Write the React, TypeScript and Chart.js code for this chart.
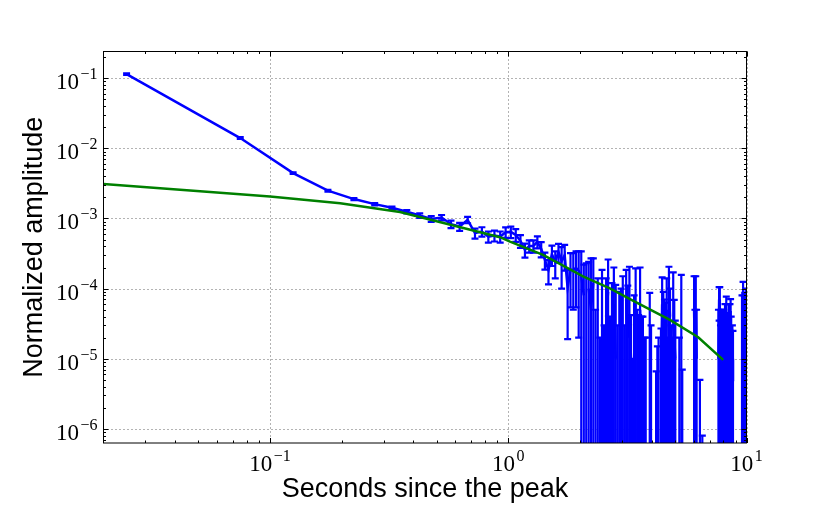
import React, { useEffect, useRef } from "react";
import { Chart, registerables } from "chart.js";

Chart.register(...registerables);

// ---- data ----
const times = [
  0.025, 0.075, 0.125, 0.175, 0.225, 0.275, 0.325, 0.375, 0.425, 0.475,
  0.525, 0.575, 0.625, 0.675, 0.725, 0.775, 0.825, 0.875, 0.925, 0.975,
  1.025, 1.075, 1.125, 1.175, 1.225, 1.275, 1.325, 1.375, 1.425, 1.475,
  1.525, 1.575, 1.625, 1.675, 1.725, 1.775, 1.825, 1.875, 1.925, 1.975,
  2.025, 2.075, 2.125, 2.175, 2.225, 2.275, 2.325, 2.375, 2.425, 2.475,
  2.525, 2.575, 2.625, 2.675, 2.725, 2.775, 2.825, 2.875, 2.925, 2.975,
  3.025, 3.075, 3.125, 3.175, 3.225, 3.275, 3.325, 3.375, 3.425, 3.475,
  3.525, 3.575, 3.625, 3.675, 3.725, 3.775, 3.825, 3.875, 3.925, 3.975,
  4.025, 4.075, 4.125, 4.175, 4.225, 4.275, 4.325, 4.375, 4.425, 4.475,
  4.525, 4.575, 4.625, 4.675, 4.725, 4.775, 4.825, 4.875, 4.925, 4.975,
  5.025, 5.075, 5.125, 5.175, 5.225, 5.275, 5.325, 5.375, 5.425, 5.525,
  5.725, 5.925, 6.025, 6.075, 6.125, 6.175, 6.225, 6.375, 6.475, 6.525,
  7.075, 7.575, 7.625, 7.675, 7.725, 7.775, 7.825, 7.875, 7.925, 7.975,
  8.025, 8.075, 8.125, 8.175, 8.225, 8.275, 8.325, 8.375, 8.425, 8.475,
  8.525, 8.575, 8.625, 8.675, 8.725, 8.775, 8.825, 9.225, 9.575, 9.625,
  9.675, 9.725, 9.775, 9.825, 9.875, 9.925, 9.975,
];

const amplitudes = [
  0.114, 0.014, 0.00443, 0.00249, 0.00189, 0.0016, 0.00142, 0.00125, 0.0011, 0.000987,
  0.00103, 0.000829, 0.000767, 0.000955, 0.000617, 0.00065, 0.000552, 0.00057, 0.000552, 0.000638,
  0.000644, 0.000583, 0.00048, 0.000357, 0.000406, 0.000406, 0.000464, 0.000369, 0.000257, 0.000185,
  0.00031, 0.00024, 0.000335, 0.000245, 0.0003, 0.000102, 0.000187, 0.000185, 0.000197, 0.00018,
  1.5e-4, 0.8e-4, -0.2e-4, 1.0e-4, 0.5e-4, 1.2e-4, -0.5e-4, 0.3e-4, -0.5e-4, 0.6e-4,
  -0.3e-4, 0.4e-4, 0.9e-4, -0.4e-4, 0.2e-4, 0.6e-4, 0.1e-4, -0.3e-4, 0.3e-4, -0.1e-4,
  0.5e-4, -0.2e-4, 0.7e-4, 0.2e-4, 0.4e-4, 0.1e-4, -0.4e-4, 0.3e-4, 0.6e-4, -0.2e-4,
  0.1e-4, 0.5e-4, 0.1e-4, -0.1e-4, -0.2e-4, -0.3e-4, -0.8e-4, -0.6e-4, 0.2e-4, -0.3e-4,
  -1.0e-4, -0.7e-4, -0.9e-4, -0.2e-4, 0.05e-4, -0.1e-4, -0.5e-4, 0.05e-4, 0.6e-4, 0.3e-4,
  0.2e-4, 0.1e-4, 0.5e-4, -0.3e-4, 0.9e-4, 0.4e-4, -0.2e-4, -0.2e-4, 0.3e-4, 0.2e-4,
  0.1e-4, -0.8e-4, -0.6e-4, -0.9e-4, -0.2e-4, -0.5e-4, 0.5e-4, -0.3e-4, -0.7e-4, -0.9e-4,
  -1.1e-4, -0.6e-4, 0.5e-4, 0.1e-4, 0.4e-4, 0.1e-4, -0.6e-4, -0.2e-4, -0.9e-4, -0.1e-4,
  -0.8e-4, -0.7e-4, 0.1e-4, 0.7e-4, 0.3e-4, -0.2e-4, 0.2e-4, -0.1e-4, 0.2e-4, -0.6e-4,
  0.1e-4, -0.5e-4, 0.3e-4, -0.4e-4, 0.2e-4, -0.7e-4, 0.1e-4, -0.3e-4, 0.2e-4, -0.6e-4,
  0.1e-4, 0.48e-4, -0.1e-4, -0.8e-4, 0.05e-4, 0.1e-4, -0.7e-4, -0.9e-4, 0.2e-4, -0.5e-4,
  0.5e-4, -0.4e-4, 0.3e-4, 0.1e-4, -0.6e-4, 0.4e-4, -0.3e-4,
];

const errors = [
  0.003, 0.0004, 0.00012, 0.00007, 0.00006, 0.00006, 0.00006, 0.00007, 0.00008, 0.00009,
  0.00009, 0.0001, 0.0001, 0.0001, 0.0001, 0.0001, 0.0001, 0.0001, 0.0001, 0.00011,
  0.00012, 0.00012, 0.0001, 0.00008, 0.00008, 0.00008, 0.00009, 0.00009, 0.00007, 0.00007,
  0.0001, 0.0001, 0.0001, 0.000145, 0.00012, 0.000083, 0.000133, 0.000135, 0.000143, 0.00016,
  1.9e-4, 1.4e-4, 2.5e-4, 1.4e-4, 2.2e-4, 1.5e-4, 1.0e-4, 1.1e-4, 0.7e-4, 1.25e-4,
  0.6e-4, 1.0e-4, 1.7e-4, 0.8e-4, 1.0e-4, 1.4e-4, 1.03e-4, 0.6e-4, 0.6e-4, 1.1e-4,
  1.0e-4, 0.5e-4, 1.15e-4, 0.9e-4, 1.65e-4, 0.32e-4, 0.5e-4, 0.5e-4, 1.35e-4, 0.7e-4,
  0.32e-4, 1.5e-4, 0.3e-4, 0.5e-4, 0.4e-4, 0.5e-4, 0.5e-4, 0.4e-4, 0.67e-4, 0.6e-4,
  0.5e-4, 0.4e-4, 0.5e-4, 0.266e-4, 0.1e-4, 0.3e-4, 0.2e-4, 0.22e-4, 0.85e-4, 0.6e-4,
  0.5e-4, 0.53e-4, 0.9e-4, 0.5e-4, 1.15e-4, 0.6e-4, 0.5e-4, 0.4e-4, 1.4e-4, 0.49e-4,
  0.25e-4, 0.4e-4, 0.3e-4, 0.5e-4, 0.4e-4, 0.3e-4, 1.07e-4, 0.37e-4, 0.3e-4, 0.4e-4,
  0.5e-4, 0.3e-4, 1.0e-4, 0.4e-4, 1.1e-4, 0.4e-4, 0.3e-4, 0.25e-4, 0.4e-4, 0.108e-4,
  0.4e-4, 0.3e-4, 0.4e-4, 0.35e-4, 0.75e-4, 0.5e-4, 0.3e-4, 0.48e-4, 0.3e-4, 0.3e-4,
  0.4e-4, 0.3e-4, 0.3e-4, 0.3e-4, 0.57e-4, 0.3e-4, 0.35e-4, 0.2e-4, 0.4e-4, 0.3e-4,
  0.5e-4, 0.23e-4, 0.5e-4, 0.4e-4, 0.25e-4, 0.15e-4, 0.4e-4, 0.4e-4, 0.6e-4, 0.3e-4,
  0.75e-4, 0.3e-4, 0.5e-4, 0.77e-4, 0.3e-4, 0.6e-4, 0.2e-4,
];

const modelTimes = [0.02, 0.1, 0.197, 0.351, 0.923, 1.017, 1.4, 2.06, 2.67, 3.35, 4.77, 6.27, 7.98];
const modelValues = [3.11e-3, 2.05e-3, 1.65e-3, 1.24e-3, 5.41e-4, 4.69e-4, 3.03e-4, 1.49e-4, 1.01e-4, 6.68e-5, 3.58e-5, 2.03e-5, 9.64e-6];

const xTickValues = [0.1, 1, 10];
const xTickExponents = ["\u22121", "0", "1"];
const yTickValues = [1e-1, 1e-2, 1e-3, 1e-4, 1e-5, 1e-6];
const yTickExponents = ["\u22121", "\u22122", "\u22123", "\u22124", "\u22125", "\u22126"];

const X_MIN = 0.02;
const X_MAX = 10;
const Y_MIN = 6.3e-7;
const Y_MAX = 0.24;

const xTitle = "Seconds since the peak";
const yTitle = "Normalized amplitude";

// ---- rendering ----
const BASE_FONT = "23px 'Liberation Serif', serif";
const EXP_FONT = "16px 'Liberation Serif', serif";
const TITLE_FONT = "27px 'Liberation Sans', Arial, sans-serif";

function minorValues(min: number, max: number): number[] {
  const out: number[] = [];
  const d0 = Math.floor(Math.log10(min));
  const d1 = Math.ceil(Math.log10(max));
  for (let d = d0; d <= d1; d++) {
    for (let m = 2; m <= 9; m++) {
      const v = m * Math.pow(10, d);
      if (v > min && v < max) out.push(v);
    }
  }
  return out;
}

function drawPow(ctx: CanvasRenderingContext2D, x: number, baseY: number, exp: string, align: "center" | "right") {
  ctx.font = BASE_FONT;
  const w10 = ctx.measureText("10").width;
  ctx.font = EXP_FONT;
  const wExp = ctx.measureText(exp).width;
  const gap = 1.5;
  const total = w10 + gap + wExp;
  const start = align === "center" ? x - total / 2 : x - total;
  ctx.textAlign = "left";
  ctx.textBaseline = "alphabetic";
  ctx.font = BASE_FONT;
  ctx.fillText("10", start, baseY);
  ctx.font = EXP_FONT;
  ctx.fillText(exp, start + w10 + gap, baseY - 10);
}

const decorPlugin = {
  id: "decor",
  beforeDatasetsDraw(chart: any) {
    const { ctx, chartArea: a, scales } = chart;
    const xs = scales.x;
    const ys = scales.y;
    ctx.save();
    // dotted grid at decades
    ctx.strokeStyle = "#666";
    ctx.lineWidth = 1;
    ctx.setLineDash([1, 3]);
    for (const v of xTickValues) {
      const px = Math.round(xs.getPixelForValue(v)) + 0.5;
      ctx.beginPath();
      ctx.moveTo(px, a.top);
      ctx.lineTo(px, a.bottom);
      ctx.stroke();
    }
    for (const v of yTickValues) {
      const py = Math.round(ys.getPixelForValue(v)) + 0.5;
      ctx.beginPath();
      ctx.moveTo(a.left, py);
      ctx.lineTo(a.right, py);
      ctx.stroke();
    }
    ctx.setLineDash([]);
    // error bars
    ctx.beginPath();
    ctx.rect(a.left, a.top, a.right - a.left, a.bottom - a.top);
    ctx.clip();
    ctx.strokeStyle = "#0000ff";
    ctx.lineWidth = 2.2;
    const cap = 3.5;
    for (let i = 0; i < times.length; i++) {
      const hi = amplitudes[i] + errors[i];
      if (hi <= 0) continue;
      const lo = amplitudes[i] - errors[i];
      const px = xs.getPixelForValue(times[i]);
      const pyHi = ys.getPixelForValue(hi);
      const pyLo = lo > 0 ? ys.getPixelForValue(lo) : a.bottom + 10;
      ctx.beginPath();
      ctx.moveTo(px, pyHi);
      ctx.lineTo(px, pyLo);
      ctx.moveTo(px - cap, pyHi);
      ctx.lineTo(px + cap, pyHi);
      if (lo > 0) {
        ctx.moveTo(px - cap, pyLo);
        ctx.lineTo(px + cap, pyLo);
      }
      ctx.stroke();
    }
    ctx.restore();
  },
  afterDraw(chart: any) {
    const { ctx, chartArea: a, scales } = chart;
    const xs = scales.x;
    const ys = scales.y;
    ctx.save();
    ctx.strokeStyle = "#000";
    ctx.lineWidth = 1;
    // ticks (inside, all four sides)
    const major = 5;
    const minor = 2.5;
    const tickX = (v: number, len: number) => {
      const px = Math.round(xs.getPixelForValue(v)) + 0.5;
      ctx.beginPath();
      ctx.moveTo(px, a.bottom);
      ctx.lineTo(px, a.bottom - len);
      ctx.moveTo(px, a.top);
      ctx.lineTo(px, a.top + len);
      ctx.stroke();
    };
    const tickY = (v: number, len: number) => {
      const py = Math.round(ys.getPixelForValue(v)) + 0.5;
      ctx.beginPath();
      ctx.moveTo(a.left, py);
      ctx.lineTo(a.left + len, py);
      ctx.moveTo(a.right, py);
      ctx.lineTo(a.right - len, py);
      ctx.stroke();
    };
    xTickValues.forEach((v) => tickX(v, major));
    minorValues(X_MIN, X_MAX).forEach((v) => tickX(v, minor));
    yTickValues.forEach((v) => tickY(v, major));
    minorValues(Y_MIN, Y_MAX).forEach((v) => tickY(v, minor));
    // frame
    ctx.strokeRect(a.left, a.top, a.right - a.left, a.bottom - a.top);
    // tick labels
    ctx.fillStyle = "#000";
    xTickValues.forEach((v, i) => {
      const px = xs.getPixelForValue(v);
      drawPow(ctx, px, a.bottom + 28, xTickExponents[i], "center");
    });
    yTickValues.forEach((v, i) => {
      const py = ys.getPixelForValue(v);
      drawPow(ctx, a.left - 6, py + 11, yTickExponents[i], "right");
    });
    // axis titles
    ctx.font = TITLE_FONT;
    ctx.textAlign = "center";
    ctx.textBaseline = "alphabetic";
    ctx.fillText(xTitle, (a.left + a.right) / 2, a.bottom + 54);
    ctx.translate(41.5, (a.top + a.bottom) / 2);
    ctx.rotate(-Math.PI / 2);
    ctx.fillText(yTitle, 0, 0);
    ctx.restore();
  },
};

export default function App() {
  const canvasRef = useRef<HTMLCanvasElement | null>(null);

  useEffect(() => {
    document.body.style.margin = "0";
    const canvas = canvasRef.current;
    if (!canvas) return;
    const blue = times.map((t, i) => ({ x: t, y: amplitudes[i] > 0 ? amplitudes[i] : null }));
    const green = modelTimes.map((t, i) => ({ x: t, y: modelValues[i] }));
    const chart = new Chart(canvas, {
      type: "line",
      data: {
        datasets: [
          {
            label: "data",
            data: blue as any,
            borderColor: "#0000ff",
            borderWidth: 2.5,
            pointRadius: 0,
            tension: 0,
            spanGaps: false,
            order: 1,
          },
          {
            label: "model",
            data: green as any,
            borderColor: "#008000",
            borderWidth: 2.5,
            pointRadius: 0,
            tension: 0,
            order: 0,
          },
        ],
      },
      options: {
        responsive: false,
        animation: false,
        devicePixelRatio: 1,
        events: [],
        layout: { padding: { left: 0, top: 51.5, right: 83.5, bottom: 0 } },
        plugins: { legend: { display: false }, tooltip: { enabled: false } },
        scales: {
          x: {
            type: "logarithmic",
            position: "bottom",
            min: X_MIN,
            max: X_MAX,
            grid: { display: false },
            border: { display: false },
            ticks: { display: false },
            afterFit: (s: any) => {
              s.height = 74;
            },
          },
          y: {
            type: "logarithmic",
            position: "left",
            min: Y_MIN,
            max: Y_MAX,
            grid: { display: false },
            border: { display: false },
            ticks: { display: false },
            afterFit: (s: any) => {
              s.width = 103.5;
            },
          },
        },
      },
      plugins: [decorPlugin],
    });
    return () => chart.destroy();
  }, []);

  return (
    <div style={{ width: 830, height: 517, background: "#fff" }}>
      <canvas ref={canvasRef} width={830} height={517} style={{ display: "block" }} />
    </div>
  );
}
